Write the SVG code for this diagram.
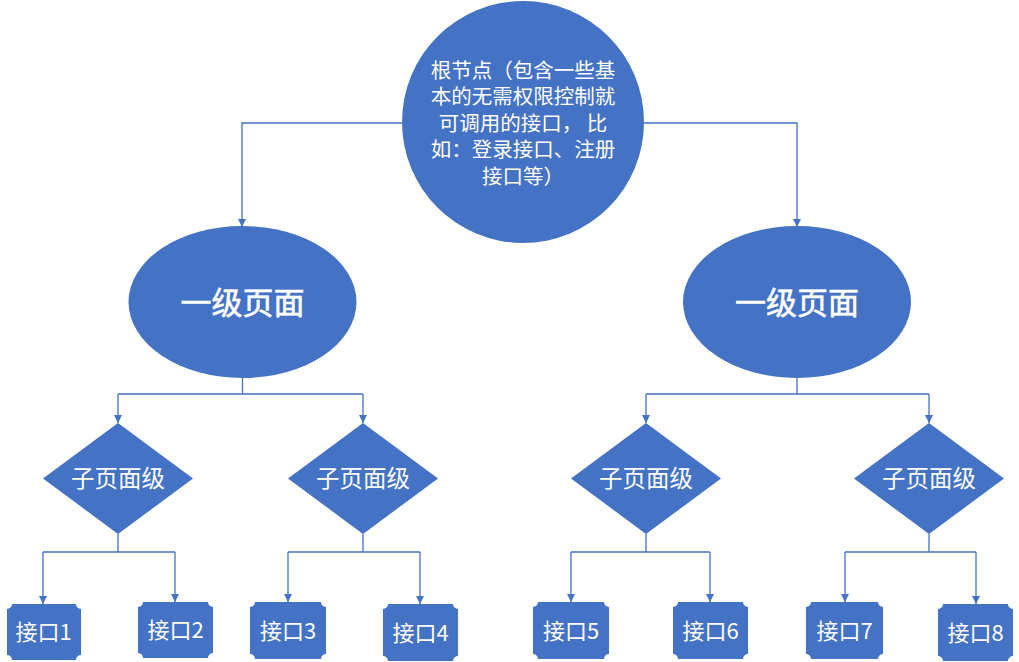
<svg xmlns="http://www.w3.org/2000/svg" width="1019" height="662" viewBox="0 0 1019 662">
<defs>
<style>
.shape{fill:#4472C4;}
.conn{fill:none;stroke:#4472C4;stroke-width:1.3;}
.t{fill:#ffffff;font-family:"Noto Sans CJK SC","Noto Sans",sans-serif;text-anchor:middle;}
.root{font-size:20.5px;}
.l1{font-size:31px;stroke:#ffffff;stroke-width:0.6px;}
.l2{font-size:23.5px;}
.l3{font-size:22px;}
</style>
<marker id="arr" viewBox="0 0 10 10" refX="10" refY="5" markerWidth="8" markerHeight="8" markerUnits="userSpaceOnUse" orient="auto">
<path d="M0,0 L10,5 L0,10 Z" fill="#4472C4"/>
</marker>
</defs>
<rect width="1019" height="662" fill="#ffffff"/>
<g id="connectors">
<path class="conn" marker-end="url(#arr)" d="M402,123 H242 V227"/>
<path class="conn" marker-end="url(#arr)" d="M644,123 H797 V227"/>
<path class="conn" d="M242.5,378 V394 M118,394 H363"/>
<path class="conn" marker-end="url(#arr)" d="M118,394 V423"/>
<path class="conn" marker-end="url(#arr)" d="M363,394 V423"/>
<path class="conn" d="M797,378 V394 M646,394 H929"/>
<path class="conn" marker-end="url(#arr)" d="M646,394 V423"/>
<path class="conn" marker-end="url(#arr)" d="M929,394 V423"/>
<path class="conn" d="M118,534 V552 M43,552 H175"/>
<path class="conn" marker-end="url(#arr)" d="M43,552 V604"/>
<path class="conn" marker-end="url(#arr)" d="M175,552 V602"/>
<path class="conn" d="M363,534 V552 M288,552 H420"/>
<path class="conn" marker-end="url(#arr)" d="M288,552 V602"/>
<path class="conn" marker-end="url(#arr)" d="M420,552 V604"/>
<path class="conn" d="M646,534 V552 M571,552 H710"/>
<path class="conn" marker-end="url(#arr)" d="M571,552 V602"/>
<path class="conn" marker-end="url(#arr)" d="M710,552 V602"/>
<path class="conn" d="M929,534 V552 M845,552 H976"/>
<path class="conn" marker-end="url(#arr)" d="M845,552 V602"/>
<path class="conn" marker-end="url(#arr)" d="M976,552 V604"/>
</g>
<g id="root">
<circle class="shape" cx="523" cy="122" r="121"/>
<text class="t root" x="523" y="77.5">根节点（包含一些基</text>
<text class="t root" x="523" y="104">本的无需权限控制就</text>
<text class="t root" x="523" y="130.5">可调用的接口， 比</text>
<text class="t root" x="523" y="157">如：登录接口、注册</text>
<text class="t root" x="523" y="184">接口等）</text>
</g>
<g id="page1">
<ellipse class="shape" cx="242.5" cy="302" rx="114" ry="76"/>
<text class="t l1" x="242.5" y="314">一级页面</text>
</g>
<g id="page2">
<ellipse class="shape" cx="797" cy="302" rx="114" ry="76"/>
<text class="t l1" x="797" y="314">一级页面</text>
</g>
<g id="sub1">
<polygon class="shape" points="118,423 193,478.5 118,534 43,478.5"/>
<text class="t l2" x="118" y="487">子页面级</text>
</g>
<g id="sub2">
<polygon class="shape" points="363,423 438,478.5 363,534 288,478.5"/>
<text class="t l2" x="363" y="487">子页面级</text>
</g>
<g id="sub3">
<polygon class="shape" points="646,423 721,478.5 646,534 571,478.5"/>
<text class="t l2" x="646" y="487">子页面级</text>
</g>
<g id="sub4">
<polygon class="shape" points="929,423 1004,478.5 929,534 854,478.5"/>
<text class="t l2" x="929" y="487">子页面级</text>
</g>
<g id="api1">
<path class="shape" d="M12,604 H76 A5,5 0 0 0 81,609 V655 A5,5 0 0 0 76,660 H12 A5,5 0 0 0 7,655 V609 A5,5 0 0 0 12,604 Z"/>
<text class="t l3" x="43.5" y="640">接口1</text>
</g>
<g id="api2">
<path class="shape" d="M143,602 H208 A5,5 0 0 0 213,607 V653 A5,5 0 0 0 208,658 H143 A5,5 0 0 0 138,653 V607 A5,5 0 0 0 143,602 Z"/>
<text class="t l3" x="175.5" y="638">接口2</text>
</g>
<g id="api3">
<path class="shape" d="M255,602 H321 A5,5 0 0 0 326,607 V654 A5,5 0 0 0 321,659 H255 A5,5 0 0 0 250,654 V607 A5,5 0 0 0 255,602 Z"/>
<text class="t l3" x="288" y="638.5">接口3</text>
</g>
<g id="api4">
<path class="shape" d="M388,604 H453 A5,5 0 0 0 458,609 V656 A5,5 0 0 0 453,661 H388 A5,5 0 0 0 383,656 V609 A5,5 0 0 0 388,604 Z"/>
<text class="t l3" x="420.5" y="640.5">接口4</text>
</g>
<g id="api5">
<path class="shape" d="M538,602 H604 A5,5 0 0 0 609,607 V654 A5,5 0 0 0 604,659 H538 A5,5 0 0 0 533,654 V607 A5,5 0 0 0 538,602 Z"/>
<text class="t l3" x="571" y="638.5">接口5</text>
</g>
<g id="api6">
<path class="shape" d="M678,602 H743 A5,5 0 0 0 748,607 V654 A5,5 0 0 0 743,659 H678 A5,5 0 0 0 673,654 V607 A5,5 0 0 0 678,602 Z"/>
<text class="t l3" x="710.5" y="638.5">接口6</text>
</g>
<g id="api7">
<path class="shape" d="M811,602 H878 A5,5 0 0 0 883,607 V654 A5,5 0 0 0 878,659 H811 A5,5 0 0 0 806,654 V607 A5,5 0 0 0 811,602 Z"/>
<text class="t l3" x="844.5" y="638.5">接口7</text>
</g>
<g id="api8">
<path class="shape" d="M943,604 H1008 A5,5 0 0 0 1013,609 V656 A5,5 0 0 0 1008,661 H943 A5,5 0 0 0 938,656 V609 A5,5 0 0 0 943,604 Z"/>
<text class="t l3" x="975.5" y="640.5">接口8</text>
</g>
</svg>
